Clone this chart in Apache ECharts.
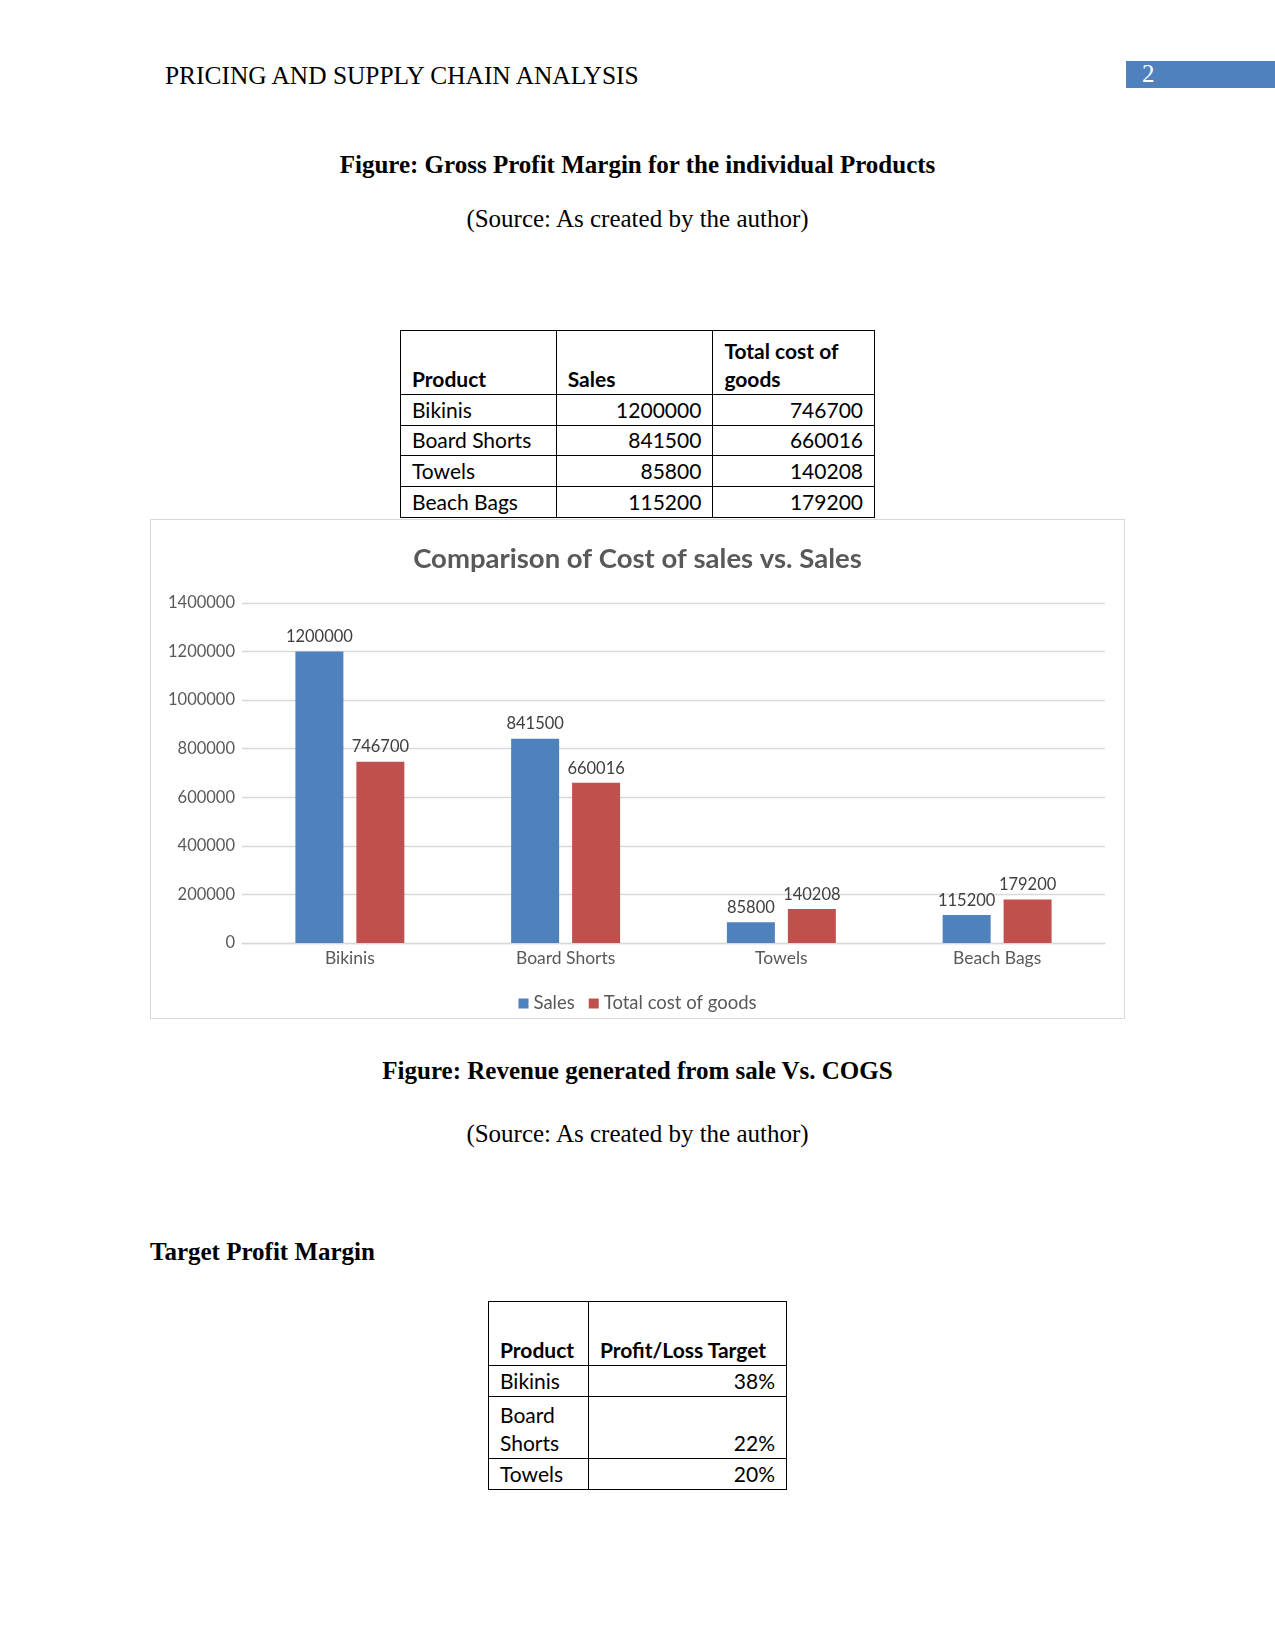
<!DOCTYPE html>
<html>
<head>
<meta charset="utf-8">
<script src="https://cdn.jsdelivr.net/npm/echarts@6/dist/echarts.min.js"></script>
<style>
  html, body { margin:0; padding:0; background:#fff; }
  body { width:1275px; height:1650px; position:relative; overflow:hidden; font-family:"Liberation Serif","Times New Roman",serif; color:#000; }
  .abs { position:absolute; white-space:nowrap; }
  .center { left:0; width:1275px; text-align:center; }
  .serif25 { font-size:25px; line-height:30px; }
  table.doc { position:absolute; border-collapse:collapse; font-family:Lato,"Noto Sans",sans-serif; font-size:21px; color:#000; }
  table.doc td { border:1.5px solid #000; padding:0 11px 1px 11px; vertical-align:bottom; line-height:28px; box-sizing:border-box; }
  table.doc td.num { text-align:right; padding-right:11px; }
  table.doc tr.hd td { font-weight:bold; }
</style>
</head>
<body>
<div class="abs serif25" style="left:165px; top:60px; font-size:25.4px;">PRICING AND SUPPLY CHAIN ANALYSIS</div>
<div class="abs" style="left:1126px; top:61px; width:149px; height:27px; background:#4F81BD;"></div>
<div class="abs serif25" style="left:1142px; top:59px; color:#fff;">2</div>

<div class="abs center serif25" style="top:150px; font-weight:bold;">Figure: Gross Profit Margin for the individual Products</div>
<div class="abs center serif25" style="top:204px;">(Source: As created by the author)</div>

<table class="doc" id="t1" style="left:400px; top:330px; width:475px;"></table>

<div class="abs" style="left:150px; top:519px; width:973px; height:498px; border:1px solid #d9d9d9;">
  <div id="chart" style="position:absolute; left:0; top:0; width:973px; height:498px;"></div>
</div>

<div class="abs center serif25" style="top:1056px; font-weight:bold;">Figure: Revenue generated from sale Vs. COGS</div>
<div class="abs center serif25" style="top:1119px;">(Source: As created by the author)</div>

<div class="abs serif25" style="left:150px; top:1237px; font-weight:bold;">Target Profit Margin</div>

<table class="doc" id="t2" style="left:488px; top:1301px; width:299px;"></table>

<script>
// ---- data ----
const categories = ["Bikinis", "Board Shorts", "Towels", "Beach Bags"];
const salesValues = [1200000, 841500, 85800, 115200];
const cogsValues = [746700, 660016, 140208, 179200];
const seriesNames = ["Sales", "Total cost of goods"];
const chartTitle = "Comparison of Cost of sales vs. Sales";
const yMin = 0, yMax = 1400000, yStep = 200000;

const targetProducts = ["Bikinis", "Board<br>Shorts", "Towels"];
const targetPercents = ["38%", "22%", "20%"];

// ---- table 1 ----
(function(){
  const t = document.getElementById('t1');
  const widths = [156, 157, 162];
  let html = '<colgroup>' + widths.map(w => '<col style="width:' + w + 'px">').join('') + '</colgroup>';
  html += '<tr class="hd" style="height:64px"><td>Product</td><td>Sales</td><td style="white-space:normal">Total cost of<br>goods</td></tr>';
  const rh = [31, 30, 31, 31];
  categories.forEach((c, i) => {
    html += '<tr style="height:' + rh[i] + 'px"><td>' + c + '</td><td class="num">' + salesValues[i] + '</td><td class="num">' + cogsValues[i] + '</td></tr>';
  });
  t.innerHTML = html;
})();

// ---- table 2 ----
(function(){
  const t = document.getElementById('t2');
  const widths = [100, 199];
  let html = '<colgroup>' + widths.map(w => '<col style="width:' + w + 'px">').join('') + '</colgroup>';
  html += '<tr class="hd" style="height:64px"><td>Product</td><td>Profit/Loss Target</td></tr>';
  const rh = [31, 62, 31];
  targetProducts.forEach((p, i) => {
    html += '<tr style="height:' + rh[i] + 'px"><td>' + p + '</td><td class="num">' + targetPercents[i] + '</td></tr>';
  });
  t.innerHTML = html;
})();

// ---- chart ----
const chart = echarts.init(document.getElementById('chart'), null, {renderer:'canvas'});
const lbl = { show:true, position:'top', distance:6, color:'#404040', fontSize:16.5, fontFamily:'Lato' };
chart.setOption({
  animation:false,
  backgroundColor:'#fff',
  title:{ text:chartTitle, left:'center', top:20, textStyle:{ fontFamily:'Lato', fontSize:27.5, fontWeight:'bold', color:'#595959' } },
  legend:{ data:seriesNames, top:469, left:'center', icon:'rect', itemWidth:10, itemHeight:10, itemGap:14,
           textStyle:{ fontFamily:'Lato', fontSize:18.5, color:'#595959' } },
  grid:{ left:91, right:19, top:83, bottom:75, containLabel:false },
  xAxis:{ type:'category', data:categories,
          axisLine:{ show:true, lineStyle:{ color:'#d9d9d9', width:1.3 } }, axisTick:{ show:false },
          axisLabel:{ color:'#595959', fontFamily:'Lato', fontSize:17.5, margin:6 } },
  yAxis:{ type:'value', min:yMin, max:yMax, interval:yStep,
          axisLine:{ show:false }, axisTick:{ show:false },
          axisLabel:{ color:'#595959', fontFamily:'Lato', fontSize:16.5, margin:7, formatter: v => String(v) },
          splitLine:{ lineStyle:{ color:'#d9d9d9', width:1.3 } } },
  series:[
    { name:seriesNames[0], type:'bar', data:salesValues, barWidth:48, barGap:'27%', itemStyle:{ color:'#4F81BD' }, label:lbl },
    { name:seriesNames[1], type:'bar', data:cogsValues, barWidth:48, barGap:'27%', itemStyle:{ color:'#C0504D' }, label:lbl }
  ]
});
</script>
</body>
</html>
